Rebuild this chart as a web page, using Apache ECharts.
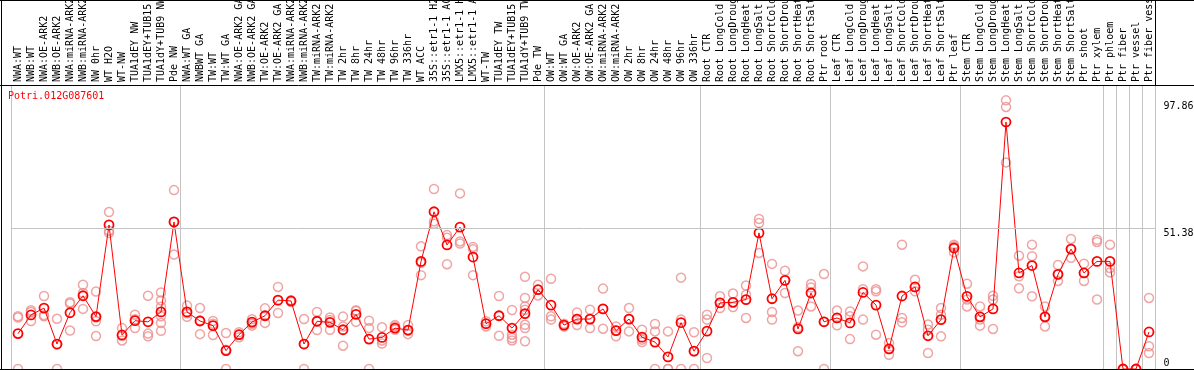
<!DOCTYPE html>
<html>
<head>
<meta charset="utf-8">
<script src="https://cdn.jsdelivr.net/npm/echarts@6/dist/echarts.min.js"></script>
<style>
html,body{margin:0;padding:0;background:#fff;}
#chart{width:1194px;height:370px;}
</style>
</head>
<body>
<div id="chart"></div>
<script>
const geneName = 'Potri.012G087601';

const categories = [
  'NWA:WT','NWB:WT','NWA:OE-ARK2','NWB:OE-ARK2','NWA:miRNA-ARK2','NWB:miRNA-ARK2','NW 0hr','WT H2O','WT-NW','TUA1dEY NW','TUA1dEY+TUB15 NW','TUA1dY+TUB9 NW','Pde NW',
  'NWA:WT GA','NWBWT GA','TW:WT','TW:WT GA','NWA:OE-ARK2 GA','NWB:OE-ARK2 GA','TW:OE-ARK2','TW:OE-ARK2 GA','NWA:miRNA-ARK2 GA','NWB:miRNA-ARK2 GA','TW:miRNA-ARK2','TW:miRNA-ARK2 GA',
  'TW 2hr','TW 8hr','TW 24hr','TW 48hr','TW 96hr','TW 336hr','WT ACC','35S::etr1-1 H2O','35S::etr1-1 ACC','LMX5::etr1-1 H2O','LMX5::etr1-1 ACC','WT-TW','TUA1dEY TW','TUA1dEY+TUB15 TW','TUA1dY+TUB9 TW','Pde TW',
  'OW:WT','OW:WT GA','OW:OE-ARK2','OW:OE-ARK2 GA','OW:miRNA-ARK2','OW:miRNA-ARK2 GA','OW 2hr','OW 8hr','OW 24hr','OW 48hr','OW 96hr','OW 336hr',
  'Root CTR','Root LongCold','Root LongDrought','Root LongHeat','Root LongSalt','Root ShortCold','Root ShortDrought','Root ShortHeat','Root ShortSalt','Ptr root',
  'Leaf CTR','Leaf LongCold','Leaf LongDrought','Leaf LongHeat','Leaf LongSalt','Leaf ShortCold','Leaf ShortDrought','Leaf ShortHeat','Leaf ShortSalt','Ptr leaf',
  'Stem CTR','Stem LongCold','Stem LongDrought','Stem LongHeat','Stem LongSalt','Stem ShortCold','Stem ShortDrought','Stem ShortHeat','Stem ShortSalt','Ptr shoot','Ptr xylem',
  'Ptr phloem','Ptr fiber','Ptr vessel','Ptr fiber vessel'
];

// indices of categories that start a new group (separator lines drawn before them)
const groupStarts = [0, 13, 41, 53, 63, 73, 84, 85, 86, 87, 88];

const meanValues = [
  12.9,19.7,22.2,9.1,20.5,26.7,19.1,52.5,12.4,17.6,17.2,20.8,53.6,
  20.8,17.5,15.8,6.7,12.5,17.1,19.4,25.1,24.8,9.1,17.4,17.0,
  14.3,19.9,10.9,11.5,14.9,14.2,39.2,57.3,45.2,51.7,40.8,16.5,19.4,14.9,20.2,28.9,
  23.3,16.0,18.2,18.2,21.9,14.0,18.2,11.6,9.8,4.4,16.9,6.5,
  13.8,24.1,24.3,25.3,49.6,25.6,32.3,14.6,27.7,17.2,
  18.6,16.8,27.9,23.3,7.3,26.6,29.9,12.1,18.0,44.1,
  26.5,19.0,21.9,90.0,35.0,37.7,19.0,34.5,43.7,35.0,39.2,
  39.2,0,0,13.5
];

const replicateValues = [
  [19.2,18.8,0],[21.4,20.8,17.5],[26.6,19.6,19.2],[18.3,9.0,0],[24.3,23.9,14.0],[30.7,27.7,21.9],[28.2,18.8,17.4,12.0],[57.2,50.4,49.6],[14.9,12.0,10.4],[19.8,18.1,14.9],[26.7,12.9,11.9],[27.9,25.0,22.7,19.2,16.8,13.9],[65.2,53.6,41.7],
  [23.1,20.3,19.0],[22.2,17.6,12.7],[17.5,16.5,12.4],[13.1,7.0,0],[13.4,12.5,11.6],[18.1,16.5,15.8],[22.1,19.4,16.8],[29.9,25.1,20.4],[25.1,24.8,24.4],[18.2,9.1,0],[20.8,17.4,14.2],[18.8,17.9,14.3],
  [19.1,15.5,8.5],[21.4,21.1,17.2],[17.6,14.9,0],[15.2,10.4,9.3],[16.0,15.5,14.3],[16.0,13.9,12.7],[44.7,38.7,34.2],[65.6,53.8,52.9],[48.8,47.8,38.2],[64.0,46.5,45.7],[44.5,43.6,34.2],[17.4,16.5,15.5],[26.6,19.4,12.1],[21.5,12.5,11.3,10.4],[33.6,25.9,22.8,21.6,16.1,14.9,10.1],[30.7,28.9,26.8],
  [32.9,19.2,18.0],[16.5,16.0,15.5],[20.6,18.2,16.0],[21.6,18.2,14.9],[29.3,21.9,14.7],[15.5,14.0,11.9],[22.2,18.2,13.7],[14.3,10.7,9.8],[16.4,13.7,0],[13.7,0,0],[33.3,18.0,0],[13.4,6.5,0],
  [19.8,18.0,4.0],[26.5,24.1,22.2],[27.5,24.3,22.6],[30.4,27.1,18.6],[54.7,53.2,42.3],[38.3,20.8,18.0],[35.8,32.3,27.7],[21.3,15.2,6.5],[31.0,29.7,22.8],[34.6,17.2,0],
  [21.3,18.6,15.9],[21.0,19.2,10.9],[37.4,29.1,18.0],[29.1,28.3,12.5],[9.5,7.3,5.2],[45.3,18.6,17.0],[32.5,29.9,28.3],[16.2,14.3,5.8],[22.2,19.8,11.9],[45.3,44.7,42.5],
  [31.1,25.3,22.8],[22.8,18.0,15.8],[26.7,25.3,14.6],[97.9,95.5,75.3],[41.3,33.8,29.4],[45.3,41.1,26.5],[22.8,19.0,15.5],[37.9,34.5,32.1],[47.4,43.7,40.5],[38.4,35.0,32.1],[47.1,46.3,25.3],
  [45.3,36.8,35.2],[0,0,0],[0,0,0],[25.9,8.3,5.8]
];

const yTickLabels = [0, 51.38, 97.86];
const refLineValues = [51.38];

const FONT = 'DejaVu Sans Mono';

const repData = [];
replicateValues.forEach((arr, i) => arr.forEach(v => repData.push([i, v])));

const chart = echarts.init(document.getElementById('chart'), null, {renderer: 'canvas'});

const gridLeft = 11.5, gridRight = 38.5, gridTop = 85, gridHeight = 284;

chart.setOption({
  animation: false,
  title: {
    text: geneName,
    left: 8, top: 91,
    padding: 0,
    textStyle: {color: '#ff0000', fontSize: 10, fontFamily: FONT, fontWeight: 'normal'}
  },
  grid: {left: gridLeft, right: gridRight, top: gridTop, height: gridHeight, containLabel: false, outerBoundsMode: 'none'},
  xAxis: {
    type: 'category',
    position: 'top',
    data: categories,
    boundaryGap: true,
    axisLine: {show: true, lineStyle: {color: '#000', width: 1}},
    axisTick: {show: true, length: 85, interval: (idx) => groupStarts.includes(idx), lineStyle: {color: '#c4c4c4', width: 1}},
    splitLine: {show: true, interval: (idx) => groupStarts.includes(idx), lineStyle: {color: '#c4c4c4', width: 1}},
    axisLabel: {interval: 0, rotate: 90, margin: 3, fontSize: 10, fontFamily: FONT, color: '#000'}
  },
  yAxis: {
    type: 'value',
    position: 'right',
    min: 0, max: 103.5,
    axisLine: {show: false},
    axisTick: {show: false},
    splitLine: {show: false},
    axisLabel: {
      customValues: yTickLabels,
      margin: 8,
      fontSize: 10, fontFamily: FONT, color: '#000', lineHeight: 11,
      formatter: (v) => v === 0 ? '0\n ' : '\n' + String(v)
    }
  },
  series: [
    {
      type: 'scatter',
      name: 'replicates',
      data: repData,
      symbol: 'circle',
      symbolSize: 9,
      itemStyle: {color: 'rgba(0,0,0,0)', borderColor: '#ec8f8f', borderWidth: 1.5},
      z: 2,
      silent: true,
      markLine: {
        silent: true,
        symbol: 'none',
        label: {show: false},
        lineStyle: {color: '#c4c4c4', type: 'solid', width: 1},
        data: refLineValues.map(v => ({yAxis: v}))
      }
    },
    {
      type: 'line',
      name: 'mean',
      data: meanValues,
      symbol: 'circle',
      symbolSize: 9,
      showAllSymbol: true,
      lineStyle: {color: '#ff0000', width: 1},
      itemStyle: {color: 'rgba(0,0,0,0)', borderColor: '#ff0000', borderWidth: 1.8},
      z: 3,
      silent: true
    }
  ],
  graphic: [
    {type: 'line', shape: {x1: 0, y1: 0.5, x2: 1194, y2: 0.5}, style: {stroke: '#000', lineWidth: 1}, z: 10},
    {type: 'line', shape: {x1: 1.5, y1: 0, x2: 1.5, y2: 370}, style: {stroke: '#000', lineWidth: 1}, z: 10},
    {type: 'line', shape: {x1: 0, y1: 85.5, x2: 1194, y2: 85.5}, style: {stroke: '#000', lineWidth: 1}, z: 10},
    {type: 'line', shape: {x1: 0, y1: 369.5, x2: 1194, y2: 369.5}, style: {stroke: '#000', lineWidth: 1}, z: 10},
    {type: 'line', shape: {x1: 1155.5, y1: 0, x2: 1155.5, y2: 85}, style: {stroke: '#000', lineWidth: 1}, z: 10}
  ]
});
</script>
</body>
</html>
